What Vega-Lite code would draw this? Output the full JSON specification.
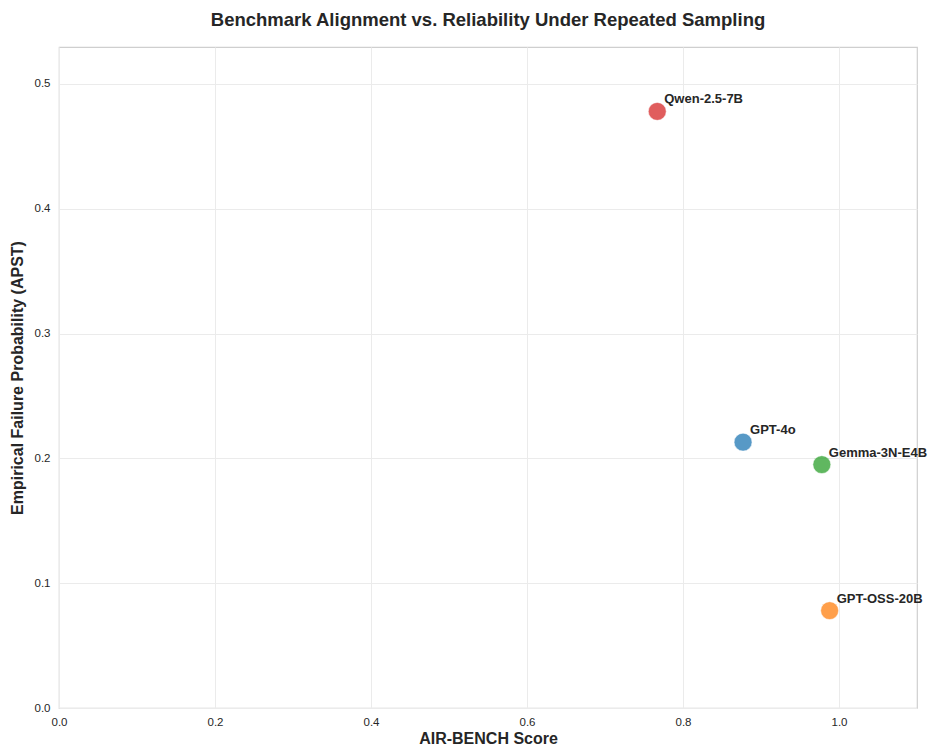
{
  "$schema": "https://vega.github.io/schema/vega-lite/v6.json",
  "width": 858,
  "height": 661,
  "autosize": {"type": "none"},
  "padding": {"left": 59, "top": 47, "right": 11, "bottom": 38},
  "background": "white",
  "title": {
    "text": "Benchmark Alignment vs. Reliability Under Repeated Sampling",
    "font": "Liberation Sans",
    "fontSize": 18.5,
    "fontWeight": "bold",
    "color": "#262626",
    "anchor": "middle",
    "offset": 18
  },
  "config": {
    "view": {"stroke": "#cfcfcf", "strokeWidth": 1.2},
    "font": "Liberation Sans",
    "axis": {
      "domain": false,
      "ticks": false,
      "labelFlush": false,
      "gridColor": "#ebebeb",
      "gridWidth": 1,
      "labelFont": "Liberation Sans",
      "labelFontSize": 11.5,
      "labelColor": "#262626",
      "titleFont": "Liberation Sans",
      "titleFontSize": 16,
      "titleFontWeight": "bold",
      "titleColor": "#262626"
    }
  },
  "data": {
    "values": [
      {"model": "Qwen-2.5-7B", "air": 0.767, "apst": 0.478},
      {"model": "GPT-4o", "air": 0.877, "apst": 0.213},
      {"model": "Gemma-3N-E4B", "air": 0.978, "apst": 0.195},
      {"model": "GPT-OSS-20B", "air": 0.988, "apst": 0.078}
    ]
  },
  "encoding": {
    "x": {
      "field": "air", "type": "quantitative",
      "scale": {"domain": [0, 1.1], "nice": false, "zero": false},
      "axis": {"values": [0, 0.2, 0.4, 0.6, 0.8, 1.0], "format": ".1f", "title": "AIR-BENCH Score", "labelPadding": 8, "titlePadding": 3}
    },
    "y": {
      "field": "apst", "type": "quantitative",
      "scale": {"domain": [0, 0.5296], "nice": false, "zero": false},
      "axis": {"values": [0, 0.1, 0.2, 0.3, 0.4, 0.5], "format": ".1f", "title": "Empirical Failure Probability (APST)", "labelPadding": 9, "titlePadding": 9}
    }
  },
  "layer": [
    {
      "mark": {"type": "circle", "size": 320, "opacity": 0.75, "stroke": "white", "strokeWidth": 0.5},
      "encoding": {
        "color": {
          "field": "model", "type": "nominal",
          "scale": {"domain": ["GPT-4o", "GPT-OSS-20B", "Gemma-3N-E4B", "Qwen-2.5-7B"], "range": ["#1f77b4", "#ff7f0e", "#2ca02c", "#d62728"]},
          "legend": null
        }
      }
    },
    {
      "mark": {"type": "text", "align": "left", "baseline": "middle", "dx": 7, "dy": -12, "fontSize": 13, "fontWeight": "bold", "color": "#262626"},
      "encoding": {"text": {"field": "model"}}
    }
  ]
}
